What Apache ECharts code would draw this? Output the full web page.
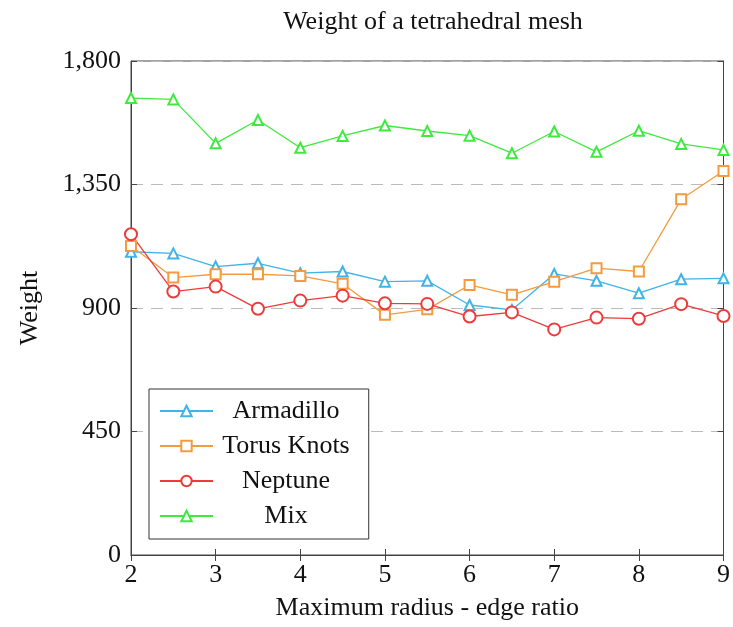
<!DOCTYPE html>
<html>
<head>
<meta charset="utf-8">
<script src="https://cdn.jsdelivr.net/npm/echarts@6/dist/echarts.min.js"></script>
<style>
  html, body { margin: 0; padding: 0; background: #fff; }
  #chart { width: 733px; height: 627px; }
</style>
</head>
<body>
<div id="chart"></div>
<script>
const xs = [2, 2.5, 3, 3.5, 4, 4.5, 5, 5.5, 6, 6.5, 7, 7.5, 8, 8.5, 9]
const armadillo = [1105, 1099, 1051, 1063, 1027, 1033, 996, 999, 911, 893, 1024, 999, 954, 1005, 1008]
const torusKnots = [1126, 1011, 1023, 1023, 1017, 988, 875, 895, 984, 948, 996, 1045, 1033, 1296, 1399]
const neptune = [1169, 960, 978, 897, 927, 945, 917, 915, 869, 884, 822, 865, 861, 914, 871]
const mix = [1665, 1660, 1500, 1585, 1484, 1527, 1565, 1545, 1528, 1464, 1543, 1469, 1546, 1498, 1476]
const yTicks = [0, 450, 900, 1350, 1800]

const font = '"Liberation Serif", "DejaVu Serif", serif'
const chart = echarts.init(document.getElementById('chart'))

const pairs = (vals) => xs.map((x, i) => [x, vals[i]])

const mkSeries = (name, vals, color, symbol, size) => ({
  name,
  type: 'line',
  data: pairs(vals),
  symbol,
  symbolSize: size,
  showAllSymbol: true,
  lineStyle: { color, width: 1.3 },
  itemStyle: { color, borderColor: color, borderWidth: 1.3 },
  emphasis: { disabled: true }
})

const option = {
  animation: false,
  backgroundColor: '#fff',
  title: {
    text: 'Weight of a tetrahedral mesh',
    left: 428,
    textAlign: 'center',
    top: 4,
    textStyle: { fontFamily: font, fontSize: 26, fontWeight: 'normal', color: '#111' }
  },
  legend: {
    orient: 'vertical',
    left: 149,
    top: 389,
    itemWidth: 53,
    itemHeight: 13,
    itemGap: 9,
    padding: [9, 19, 10, 10],
    borderColor: '#333',
    borderWidth: 1,
    backgroundColor: '#fff',
    formatter: (name) => '{c|' + name + '}',
    textStyle: {
      fontFamily: font,
      fontSize: 26,
      color: '#111',
      rich: { c: { width: 136, align: 'center', fontFamily: font, fontSize: 26, color: '#111' } }
    },
    data: ['Armadillo', 'Torus Knots', 'Neptune', 'Mix']
  },
  grid: {
    left: 131, right: 8, top: 61, bottom: 72,
    show: true, borderColor: '#444', borderWidth: 1
  },
  xAxis: [{
    type: 'value',
    min: 2, max: 9, interval: 1,
    name: 'Maximum radius - edge ratio',
    nameLocation: 'middle',
    nameGap: 40,
    nameTextStyle: { fontFamily: font, fontSize: 26, color: '#111' },
    axisLine: { show: true, lineStyle: { color: '#444' } },
    axisTick: { show: true, inside: true, length: 6, lineStyle: { color: '#444' } },
    axisLabel: { fontFamily: font, fontSize: 26, color: '#111', margin: 7 },
    splitLine: { show: false }
  }, {
    type: 'value',
    position: 'top',
    min: 2, max: 9, interval: 1,
    axisLine: { show: true, lineStyle: { color: '#444' } },
    axisTick: { show: true, inside: true, length: 6, lineStyle: { color: '#444' } },
    axisLabel: { show: false },
    splitLine: { show: false }
  }],
  yAxis: [{
    type: 'value',
    min: 0, max: 1800, interval: 450,
    name: 'Weight',
    nameLocation: 'middle',
    nameGap: 88,
    nameTextStyle: { fontFamily: font, fontSize: 26, color: '#111' },
    axisLine: { show: true, lineStyle: { color: '#444' } },
    axisTick: { show: true, inside: true, length: 6, lineStyle: { color: '#444' } },
    axisLabel: {
      fontFamily: font, fontSize: 26, color: '#111', margin: 10,
      formatter: (v) => yTicks.includes(v) ? v.toLocaleString('en-US') : ''
    },
    splitLine: { show: true, lineStyle: { color: '#bbb', type: [12, 8], width: 1 } }
  }, {
    type: 'value',
    position: 'right',
    min: 0, max: 1800, interval: 450,
    axisLine: { show: true, lineStyle: { color: '#444' } },
    axisTick: { show: true, inside: true, length: 6, lineStyle: { color: '#444' } },
    axisLabel: { show: false },
    splitLine: { show: false }
  }],
  series: [
    mkSeries('Armadillo', armadillo, '#3fb4e6', 'emptyTriangle', 10),
    mkSeries('Torus Knots', torusKnots, '#f59a3e', 'emptyRect', 10),
    mkSeries('Neptune', neptune, '#ef3a3a', 'emptyCircle', 12),
    mkSeries('Mix', mix, '#3eea3e', 'emptyTriangle', 10)
  ]
}

chart.setOption(option)
</script>
</body>
</html>
